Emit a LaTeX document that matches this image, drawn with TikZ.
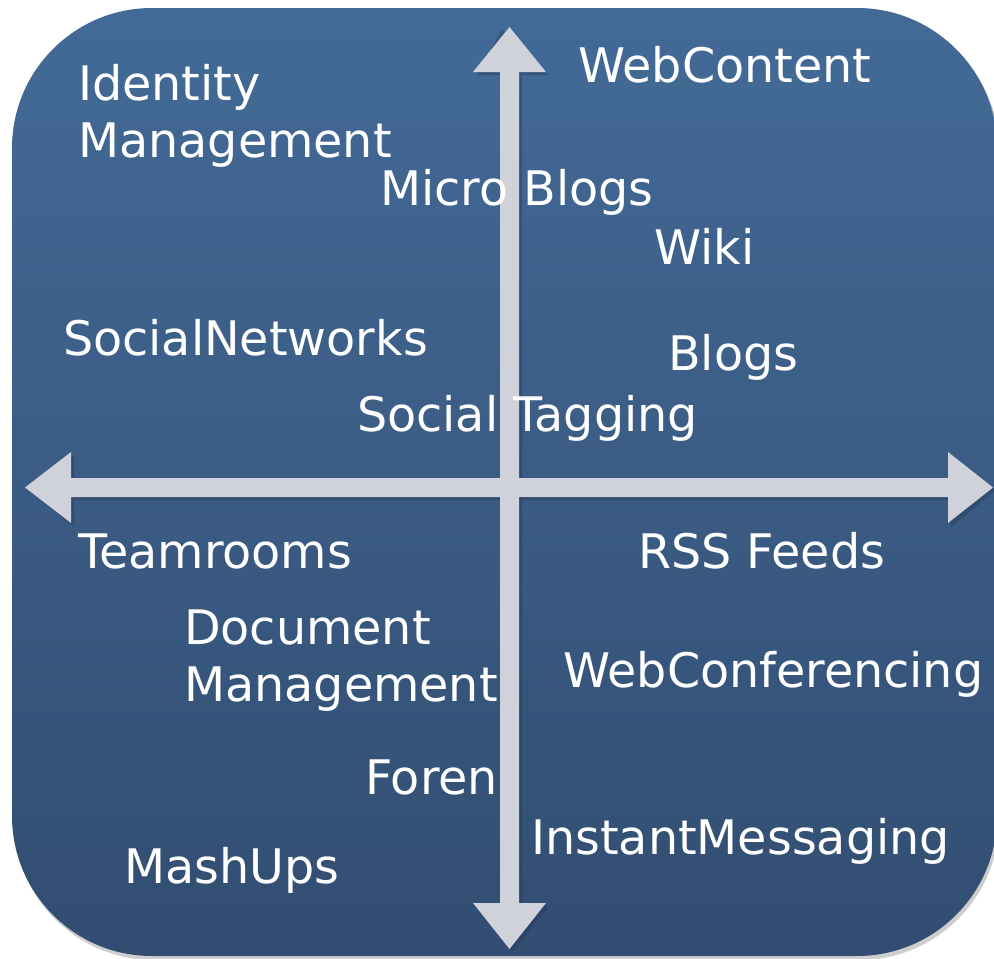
\documentclass[tikz,border=0pt]{standalone}
\usepackage{fontspec}
\setmainfont{DejaVu Sans}
\usetikzlibrary{calc}
\definecolor{boxtop}{HTML}{436A97}
\definecolor{boxbot}{HTML}{324D71}
\definecolor{axis}{HTML}{CFD2DA}
\definecolor{shade}{HTML}{1E3350}
\begin{document}
\begin{tikzpicture}[x=1pt,y=-1pt,
  lbl/.style={anchor=base west,inner sep=0pt,text=white,font=\fontsize{47.6}{57}\selectfont,align=left},
  axisshape/.style={fill=axis,draw=none},
  axisshadow/.style={fill=shade,opacity=0.35,draw=none}]
\useasboundingbox (0,0) rectangle (994,959);
% panel
\fill[shade,opacity=0.25,rounded corners=140pt] (14,11) rectangle (999,960);
\shade[top color=boxtop,bottom color=boxbot,rounded corners=140pt] (12,8) rectangle (997,956);
% axes shadow
\fill[axisshadow] (502,30) -- (549,75) -- (522,75) -- (522,906) -- (549,906) -- (512,952) -- (476,906) -- (503,906) -- (503,75) -- (476,75) -- cycle;
\fill[axisshadow] (28,490) -- (74,455) -- (74,481) -- (951,481) -- (951,455) -- (996,490) -- (951,527) -- (951,500) -- (74,500) -- (74,527) -- cycle;
% axes
\coordinate (vtop) at (509.5,27);
\coordinate (vbot) at (509.5,949);
\coordinate (hleft) at (25,487.5);
\coordinate (hright) at (993,487.5);
\fill[axisshape] (vtop) -- (546,72) -- (519,72) -- (519,903) -- (546,903) -- (vbot) -- (473,903) -- (500,903) -- (500,72) -- (473,72) -- cycle;
\fill[axisshape] (hleft) -- (71,452) -- (71,478) -- (948,478) -- (948,452) -- (hright) -- (948,523) -- (948,497) -- (71,497) -- (71,523) -- cycle;
% labels
\node[lbl] (idm) at (78,157) {Identity\\Management};
\node[lbl] (web) at (578,82) {WebContent};
\node[lbl] (micro) at (380,205) {Micro Blogs};
\node[lbl] (wiki) at (654,264) {Wiki};
\node[lbl] (sn) at (63,355) {SocialNetworks};
\node[lbl] (blogs) at (668,370) {Blogs};
\node[lbl] (tag) at (357,431) {Social Tagging};
\node[lbl] (team) at (78,568) {Teamrooms};
\node[lbl] (rss) at (638,568) {RSS Feeds};
\node[lbl] (doc) at (184,701) {Document\\Management};
\node[lbl] (conf) at (563,687) {WebConferencing};
\node[lbl] (foren) at (365,794) {Foren};
\node[lbl] (im) at (531,854) {InstantMessaging};
\node[lbl] (mash) at (124,883) {MashUps};
\end{tikzpicture}
\end{document}
